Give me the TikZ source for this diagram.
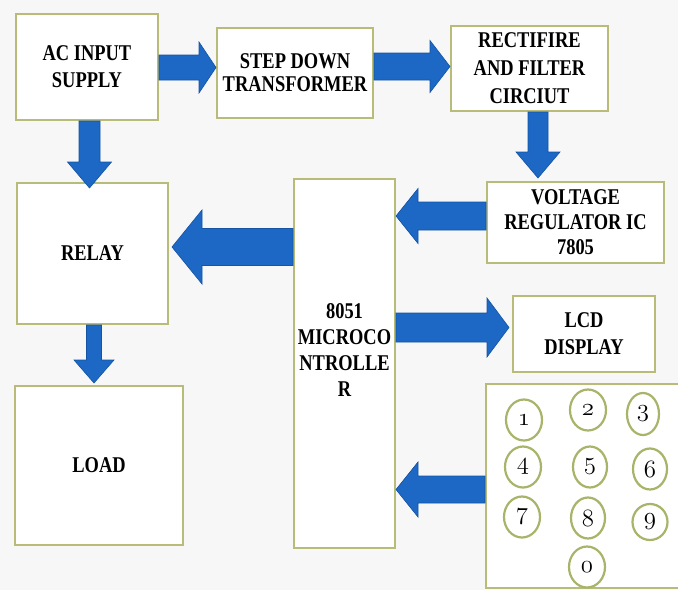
\documentclass[tikz,border=0pt]{standalone}
\usepackage{fontspec}
\newfontfamily\lbl{Liberation Serif}[FakeStretch=0.82, BoldFont={Liberation Serif Bold}]
\usetikzlibrary{calc,shapes.geometric}
\definecolor{bordercol}{HTML}{B8BC78}
\definecolor{ringcol}{HTML}{A9B46A}
\definecolor{arrowcol}{HTML}{1C68C4}
\definecolor{arrowedge}{HTML}{1553A3}
\definecolor{bgcol}{HTML}{F7F7F7}
% #1 from, #2 to (tip), #3 shaft half width, #4 head half width, #5 head length
\newcommand\blockarrow[5]{%
  \coordinate (hb) at ($(#2)!#5!(#1)$);
  \filldraw[barrow] ($(#1)!#3!90:(#2)$) -- ($(hb)!#3!90:(#2)$) -- ($(hb)!#4!90:(#2)$)
    -- (#2) -- ($(hb)!#4!-90:(#2)$) -- ($(hb)!#3!-90:(#2)$) -- ($(#1)!#3!-90:(#2)$) -- cycle;}
\newcommand\kd[1]{{\fontsize{24.88}{26}\usefont{OML}{cmm}{m}{it}#1}}
\begin{document}
\begin{tikzpicture}[x=1pt,y=-1pt,
  box/.style={draw=bordercol, line width=2pt, fill=white, inner sep=0pt, align=center,
    font=\lbl\bfseries\fontsize{22.5}{27}\selectfont},
  lines/.style={font=\lbl\bfseries\fontsize{22.5}{#1}\selectfont},
  barrow/.style={fill=arrowcol, draw=arrowedge, line width=0.6pt, line join=miter},
  key/.style={ellipse, draw=ringcol, line width=2.2pt, fill=white, inner sep=0pt,
    minimum width=36pt, minimum height=41pt}]
\fill[bgcol] (0,0) rectangle (678,590);
\useasboundingbox (0,0) rectangle (678,590);
\clip (0,0) rectangle (678,590);
% boxes
\node[box, minimum width=142pt, minimum height=106pt] (ac) at (87,67) {AC INPUT\\SUPPLY};
\node[box, lines=23, minimum width=156pt, minimum height=90pt] (sd) at (295,73) {STEP DOWN\\TRANSFORMER};
\node[box, lines=28, minimum width=157pt, minimum height=85pt] (rf) at (529.5,68.5) {RECTIFIRE\\AND FILTER\\CIRCIUT};
\node[box, lines=25, minimum width=177pt, minimum height=81pt] (vr) at (575.5,222.5) {VOLTAGE\\REGULATOR IC\\7805};
\node[box, minimum width=151pt, minimum height=141pt] (relay) at (92.5,253.5) {RELAY};
\node[box, minimum width=101pt, minimum height=369pt] (mcu) at (344.5,363.5) {};
\node[lines=26, align=center, inner sep=0pt] (mcutxt) at (344.5,350) {8051\\MICROCO\\NTROLLE\\R};
\node[box, minimum width=142pt, minimum height=76pt] (lcd) at (584,334) {LCD\\DISPLAY};
\node[box, minimum width=168pt, minimum height=159pt] (load) at (99,465.5) {LOAD};
\node[box, minimum width=230pt, minimum height=204pt] (keypad) at (601,486) {};
% keys
\node[key] (k1) at (524,420) {\kd{1}};
\node[key] (k2) at (588,410) {\kd{2}};
\node[key, minimum width=32pt, minimum height=42pt] (k3) at (643,414) {\kd{3}};
\node[key] (k4) at (523,467) {\kd{4}};
\node[key, minimum width=34pt] (k5) at (590,467) {\kd{5}};
\node[key, minimum width=34pt] (k6) at (650,469) {\kd{6}};
\node[key] (k7) at (522,517) {\kd{7}};
\node[key, minimum width=34pt] (k8) at (588,518) {\kd{8}};
\node[key, minimum width=35pt, minimum height=36pt] (k9) at (650,522) {\kd{9}};
\node[key] (k0) at (587,567) {\kd{0}};
% arrow end points
\coordinate (a1s) at (ac.east |- 0,67.5);   \coordinate (a1e) at (sd.west |- 0,67.5);
\coordinate (a2s) at (sd.east |- 0,66.5);   \coordinate (a2e) at (450,66.5);
\coordinate (a3s) at (89.5,0 |- ac.south);  \coordinate (a3e) at (89.5,188);
\coordinate (a4s) at (538,0 |- rf.south);   \coordinate (a4e) at (538,178);
\coordinate (a5s) at (vr.west |- 0,216);    \coordinate (a5e) at (mcu.east |- 0,216);
\coordinate (a6s) at (mcu.west |- 0,247);   \coordinate (a6e) at (172,247);
\coordinate (a7s) at (94,0 |- relay.south); \coordinate (a7e) at (94,383);
\coordinate (a8s) at (mcu.east |- 0,327.5); \coordinate (a8e) at (509,327.5);
\coordinate (a9s) at (keypad.west |- 0,489.5); \coordinate (a9e) at (mcu.east |- 0,489.5);
% arrows
\blockarrow{a1s}{a1e}{12.5pt}{25.5pt}{17pt}
\blockarrow{a2s}{a2e}{13.5pt}{26pt}{20pt}
\blockarrow{a3s}{a3e}{10.5pt}{22pt}{26pt}
\blockarrow{a4s}{a4e}{10pt}{22pt}{26pt}
\blockarrow{a5s}{a5e}{14pt}{27.5pt}{22pt}
\blockarrow{a6s}{a6e}{18.5pt}{37pt}{30pt}
\blockarrow{a7s}{a7e}{7.5pt}{20pt}{23pt}
\blockarrow{a8s}{a8e}{14.5pt}{29.5pt}{22pt}
\blockarrow{a9s}{a9e}{13.5pt}{27.5pt}{22pt}
\end{tikzpicture}
\end{document}
